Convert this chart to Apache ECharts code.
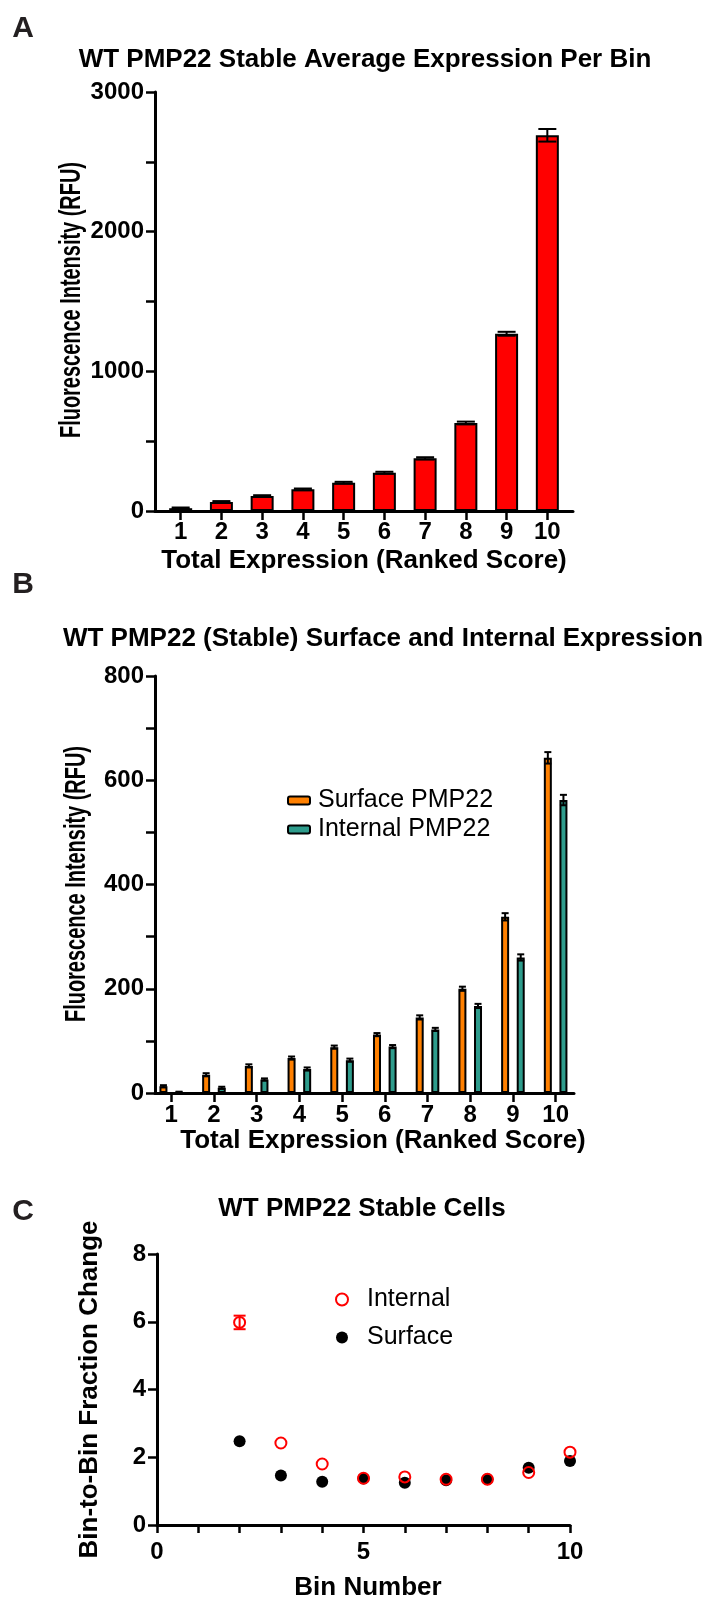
<!DOCTYPE html>
<html>
<head>
<meta charset="utf-8">
<script src="https://cdn.jsdelivr.net/npm/echarts@6/dist/echarts.min.js"></script>
<style>
  html, body { margin: 0; padding: 0; background: #fff; }
  #main { width: 704px; height: 1602px; }
</style>
</head>
<body>
<div id="main"></div>
<script>
// Panel A: average expression per bin
const bins = [1, 2, 3, 4, 5, 6, 7, 8, 9, 10];
const avgExpr = [20, 65, 107, 155, 203, 274, 377, 630, 1269, 2690];
const avgErr = [5, 6, 6, 6, 6, 7, 8, 10, 14, 45];

// Panel B: surface vs internal
const surfaceExpr = [13, 35, 52, 67, 88, 112, 145, 200, 338, 643];
const surfaceErr = [2, 3, 3, 3, 3, 3, 4, 4, 7, 11];
const internalExpr = [1.5, 10, 26, 46, 63, 89, 122, 167, 260, 562];
const internalErr = [1, 2, 2, 3, 3, 3, 3, 4, 6, 10];

// Panel C: bin-to-bin fraction change
const binNumbers = [2, 3, 4, 5, 6, 7, 8, 9, 10];
const internalChange = [5.98, 2.42, 1.80, 1.38, 1.42, 1.35, 1.35, 1.55, 2.15];
const internalChangeErr = [0.2, 0.04, 0.04, 0.03, 0.03, 0.03, 0.03, 0.04, 0.05];
const surfaceChange = [2.47, 1.46, 1.28, 1.37, 1.25, 1.32, 1.35, 1.69, 1.89];

const FONT = '"Liberation Sans", Arial, Helvetica, sans-serif';
const ORANGE = '#FF8000';
const TEAL = '#2E9C8C';
const RFU = 'Fluorescence Intensity (RFU)';

const chart = echarts.init(document.getElementById('main'), null, { renderer: 'canvas' });

const pairs = (xs, ys) => xs.map((x, i) => [x, ys[i]]);
const triples = (xs, ys, es) => xs.map((x, i) => [x, ys[i], es[i]]);

function errorBars(offset, capW, color) {
    return function (params, api) {
        const x = api.value(0), v = api.value(1), e = api.value(2);
        const hi = api.coord([x, v + e]);
        const lo = api.coord([x, v - e]);
        const cx = hi[0] + offset;
        const style = { stroke: color || '#000', lineWidth: 2 };
        return {
            type: 'group',
            children: [
                { type: 'line', shape: { x1: cx, y1: hi[1], x2: cx, y2: lo[1] }, style },
                { type: 'line', shape: { x1: cx - capW / 2, y1: hi[1], x2: cx + capW / 2, y2: hi[1] }, style },
                { type: 'line', shape: { x1: cx - capW / 2, y1: lo[1], x2: cx + capW / 2, y2: lo[1] }, style }
            ]
        };
    };
}

// condensed, rotated y-axis titles for panels A and B
function sideName(x, y) {
    return {
        type: 'text', x: x, y: y, rotation: Math.PI / 2, scaleX: 0.665,
        style: { text: RFU, fill: '#000', font: 'bold 30px ' + FONT, align: 'center', verticalAlign: 'middle' }
    };
}

function panelLetter(t, y) {
    return {
        type: 'text', x: 23, y: y,
        style: { text: t, fill: '#231F20', font: 'bold 30px ' + FONT, align: 'center', verticalAlign: 'middle' }
    };
}

const axisLine = { lineStyle: { color: '#000', width: 3 } };
const tickStyle = { lineStyle: { color: '#000', width: 2.5 } };
const tickLabel = { color: '#000', fontFamily: FONT, fontWeight: 'bold', fontSize: 24 };
const boldName = { color: '#000', fontFamily: FONT, fontWeight: 'bold', fontSize: 26 };

const option = {
    animation: false,
    backgroundColor: '#fff',
    title: [
        { text: 'WT PMP22 Stable Average Expression Per Bin', left: 365, top: 47, textAlign: 'center', padding: 0,
          textStyle: boldName },
        { text: 'WT PMP22 (Stable) Surface and Internal Expression', left: 383, top: 626, textAlign: 'center', padding: 0,
          textStyle: boldName },
        { text: 'WT PMP22 Stable Cells', left: 362, top: 1196, textAlign: 'center', padding: 0,
          textStyle: boldName }
    ],
    graphic: [
        panelLetter('A', 29),
        panelLetter('B', 585),
        panelLetter('C', 1212),
        sideName(72, 300),
        sideName(77, 884)
    ],
    legend: [
        {
            data: ['Surface PMP22', 'Internal PMP22'],
            orient: 'vertical', left: 282, top: 783, itemGap: 4,
            itemWidth: 22, itemHeight: 8,
            textStyle: { color: '#000', fontFamily: FONT, fontSize: 25, padding: [0, 0, 0, 3] }
        },
        {
            data: ['Internal', 'Surface'],
            orient: 'vertical', left: 330, top: 1282, itemGap: 13,
            itemWidth: 12, itemHeight: 12,
            textStyle: { color: '#000', fontFamily: FONT, fontSize: 25, padding: [0, 0, 0, 14] }
        }
    ],
    grid: [
        { left: 155, top: 92, width: 418, height: 419 },
        { left: 155, top: 676, width: 419, height: 417 },
        { left: 157, top: 1254, width: 413, height: 275 }
    ],
    xAxis: [
        {
            gridIndex: 0, type: 'value', min: 0.37, max: 10.63,
            name: 'Total Expression (Ranked Score)', nameLocation: 'middle', nameGap: 37,
            nameTextStyle: boldName,
            axisLine, splitLine: { show: false },
            axisTick: { length: 9, customValues: bins, ...tickStyle },
            axisLabel: { customValues: bins, margin: 9, ...tickLabel }
        },
        {
            gridIndex: 1, type: 'value', min: 0.62, max: 10.43,
            name: 'Total Expression (Ranked Score)', nameLocation: 'middle', nameGap: 34,
            nameTextStyle: { ...boldName, padding: [0, 0, 0, 37] },
            axisLine, splitLine: { show: false },
            axisTick: { length: 9, customValues: bins, ...tickStyle },
            axisLabel: { customValues: bins, margin: 10, ...tickLabel }
        },
        {
            gridIndex: 2, type: 'value', min: 0, max: 10, interval: 1,
            name: 'Bin Number', nameLocation: 'middle', nameGap: 50,
            nameTextStyle: { ...boldName, padding: [0, 0, 0, 9] },
            axisLine, splitLine: { show: false },
            axisTick: { length: 8, ...tickStyle },
            axisLabel: { margin: 15, ...tickLabel, formatter: v => (v % 5 === 0 ? String(v) : '') }
        }
    ],
    yAxis: [
        {
            gridIndex: 0, type: 'value', min: 0, max: 3000, interval: 500,
            axisLine: { show: true, ...axisLine }, splitLine: { show: false },
            axisTick: { length: 9, ...tickStyle },
            axisLabel: { margin: 11, ...tickLabel, formatter: v => (v % 1000 === 0 ? String(v) : '') }
        },
        {
            gridIndex: 1, type: 'value', min: 0, max: 800, interval: 100,
            axisLine: { show: true, ...axisLine }, splitLine: { show: false },
            axisTick: { length: 9, ...tickStyle },
            axisLabel: { margin: 11, ...tickLabel, formatter: v => (v % 200 === 0 ? String(v) : '') }
        },
        {
            gridIndex: 2, type: 'value', min: 0, max: 8, interval: 2,
            name: 'Bin-to-Bin Fraction Change', nameLocation: 'middle', nameGap: 54,
            nameTextStyle: boldName,
            axisLine: { show: true, ...axisLine }, splitLine: { show: false },
            axisTick: { length: 9, ...tickStyle },
            axisLabel: { margin: 11, ...tickLabel }
        }
    ],
    series: [
        {
            name: 'Average', type: 'bar', xAxisIndex: 0, yAxisIndex: 0,
            data: pairs(bins, avgExpr), barWidth: 23,
            itemStyle: { color: '#FF0000', borderColor: '#000', borderWidth: 2 }
        },
        {
            type: 'custom', xAxisIndex: 0, yAxisIndex: 0, z: 5,
            data: triples(bins, avgExpr, avgErr), renderItem: errorBars(0, 18)
        },
        {
            name: 'Surface PMP22', type: 'bar', xAxisIndex: 1, yAxisIndex: 1,
            data: pairs(bins, surfaceExpr), barWidth: 8, barGap: '95%',
            itemStyle: { color: ORANGE, borderColor: '#000', borderWidth: 2 }
        },
        {
            name: 'Internal PMP22', type: 'bar', xAxisIndex: 1, yAxisIndex: 1,
            data: pairs(bins, internalExpr), barWidth: 8, barGap: '95%',
            itemStyle: { color: TEAL, borderColor: '#000', borderWidth: 2 }
        },
        {
            type: 'custom', xAxisIndex: 1, yAxisIndex: 1, z: 5,
            data: triples(bins, surfaceExpr, surfaceErr), renderItem: errorBars(-7.8, 7)
        },
        {
            type: 'custom', xAxisIndex: 1, yAxisIndex: 1, z: 5,
            data: triples(bins, internalExpr, internalErr), renderItem: errorBars(7.8, 7)
        },
        {
            name: 'Surface', type: 'scatter', xAxisIndex: 2, yAxisIndex: 2,
            data: pairs(binNumbers, surfaceChange), symbol: 'circle', symbolSize: 12,
            itemStyle: { color: '#000', opacity: 1 }
        },
        {
            name: 'Internal', type: 'scatter', xAxisIndex: 2, yAxisIndex: 2, z: 4,
            data: pairs(binNumbers, internalChange), symbol: 'circle', symbolSize: 11,
            itemStyle: { color: 'rgba(255,255,255,0)', borderColor: '#FF0000', borderWidth: 2, opacity: 1 }
        },
        {
            // only the bin-2 error bar is longer than the marker
            type: 'custom', xAxisIndex: 2, yAxisIndex: 2, z: 3,
            data: triples(binNumbers, internalChange, internalChangeErr).filter(d => d[2] > 0.1),
            renderItem: errorBars(0, 12, '#FF0000')
        }
    ]
};

chart.setOption(option);
</script>
</body>
</html>
